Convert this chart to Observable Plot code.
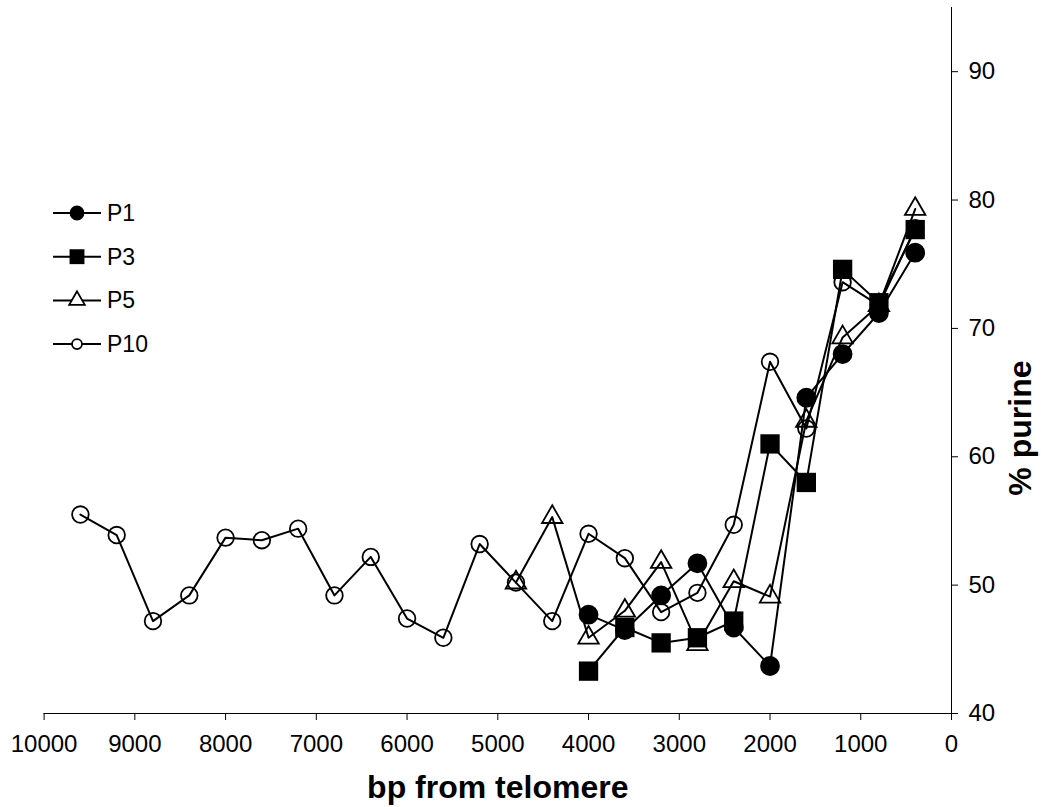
<!DOCTYPE html>
<html>
<head>
<meta charset="utf-8">
<script src="https://cdn.jsdelivr.net/npm/d3@7"></script>
<script src="https://cdn.jsdelivr.net/npm/@observablehq/plot@0.6"></script>
<style>
  html, body { margin: 0; padding: 0; background: #fff; }
  #wrap { position: relative; width: 1044px; height: 807px; font-family: "Liberation Sans", Arial, sans-serif; }
  #legend { position: absolute; left: 0; top: 0; }
</style>
</head>
<body>
<div id="wrap"></div>
<script>
// ---- data ----
const seriesNames = ["P1", "P3", "P5", "P10"];

const bp_P1 = [4000, 3600, 3200, 2800, 2400, 2000, 1600, 1200, 800, 400];
const purine_P1 = [47.7, 46.5, 49.2, 51.7, 46.7, 43.7, 64.6, 68.0, 71.2, 75.9];

const bp_P3 = [4000, 3600, 3200, 2800, 2400, 2000, 1600, 1200, 800, 400];
const purine_P3 = [43.3, 46.7, 45.5, 45.9, 47.2, 61.0, 58.0, 74.6, 72.0, 77.7];

const bp_P5 = [4800, 4400, 4000, 3600, 3200, 2800, 2400, 2000, 1600, 1200, 800, 400];
const purine_P5 = [50.2, 55.3, 45.9, 48.0, 51.8, 45.4, 50.3, 49.1, 62.8, 69.3, 71.8, 79.3];

const bp_P10 = [9600, 9200, 8800, 8400, 8000, 7600, 7200, 6800, 6400, 6000, 5600, 5200,
                4800, 4400, 4000, 3600, 3200, 2800, 2400, 2000, 1600, 1200, 800, 400];
const purine_P10 = [55.5, 53.9, 47.2, 49.2, 53.7, 53.5, 54.4, 49.2, 52.2, 47.4, 45.9, 53.2,
                    50.2, 47.2, 54.0, 52.1, 47.9, 49.4, 54.7, 67.4, 62.2, 73.6, 71.8, 77.8];

const xTicks = [10000, 9000, 8000, 7000, 6000, 5000, 4000, 3000, 2000, 1000, 0];
const yTicks = [40, 50, 60, 70, 80, 90];
const xLabel = "bp from telomere";
const yLabel = "% purine";

// ---- build tables ----
function table(name, xs, ys) { return xs.map((x, i) => ({series: name, bp: x, purine: ys[i]})); }
const P1 = table("P1", bp_P1, purine_P1);
const P3 = table("P3", bp_P3, purine_P3);
const P5 = table("P5", bp_P5, purine_P5);
const P10 = table("P10", bp_P10, purine_P10);

const styles = {
  P1:  {symbol: "circle",   fill: "black", stroke: "black", r: 9,    lr: 6.5},
  P3:  {symbol: "square",   fill: "black", stroke: "none",  r: 10.9, lr: 8.4},
  P5:  {symbol: "triangle", fill: "none",  stroke: "black", r: 7.6,  lr: 5.8},
  P10: {symbol: "circle",   fill: "none",  stroke: "black", r: 8.3,  lr: 5}
};

const all = [P1, P3, P5, P10];

const marks = [
  Plot.ruleY([40], {stroke: "black", strokeWidth: 1}),
  Plot.ruleX([0], {stroke: "black", strokeWidth: 1}),
  Plot.axisX({anchor: "bottom", ticks: xTicks, tickSize: 7, tickPadding: 14, tickFormat: d3.format("d"), fontSize: 24, label: null}),
  Plot.axisY({anchor: "right", ticks: yTicks, tickSize: 6, tickPadding: 11, fontSize: 24, label: null}),
  ...all.map(d => Plot.line(d, {x: "bp", y: "purine", stroke: "black", strokeWidth: 2})),
  ...all.map((d, i) => {
    const s = styles[seriesNames[i]];
    return Plot.dot(d, {x: "bp", y: "purine", symbol: () => s.symbol, r: s.r, fill: s.fill, stroke: s.stroke, strokeWidth: 1.8});
  }),
  Plot.text([xLabel], {frameAnchor: "bottom", lineAnchor: "bottom", dy: 84, fontSize: 32, fontWeight: "bold", fill: "black"}),
  Plot.text([yLabel], {frameAnchor: "right", rotate: -90, lineAnchor: "bottom", dx: 79, fontSize: 32, fontWeight: "bold", fill: "black"})
];

const chart = Plot.plot({
  width: 1044,
  height: 807,
  marginLeft: 43.6,
  marginRight: 93,
  marginTop: 7,
  marginBottom: 94,
  style: {fontFamily: "'Liberation Sans', Arial, sans-serif", fontSize: "24px", color: "black", background: "white", overflow: "visible"},
  x: {domain: [10000, 0]},
  y: {domain: [40, 95]},
  symbol: {type: "identity"},
  marks
});
document.getElementById("wrap").appendChild(chart);

// ---- legend overlay (inside plot area, upper left) ----
const legend = d3.select("#wrap").append("svg")
  .attr("id", "legend").attr("width", 200).attr("height", 200)
  .style("left", "40px").style("top", "190px");
const symMap = {circle: d3.symbolCircle, square: d3.symbolSquare, triangle: d3.symbolTriangle};
seriesNames.forEach((name, i) => {
  const s = styles[name];
  const g = legend.append("g").attr("transform", `translate(0,${23 + i * 43.7})`);
  g.append("line").attr("x1", 13).attr("x2", 61).attr("stroke", "black").attr("stroke-width", 2);
  g.append("path").attr("transform", "translate(37,0)")
    .attr("d", d3.symbol(symMap[s.symbol], Math.PI * s.lr * s.lr)())
    .attr("fill", s.fill === "none" ? "white" : s.fill)
    .attr("stroke", s.stroke).attr("stroke-width", 1.8);
  g.append("text").attr("x", 67).attr("dy", "0.35em")
    .attr("font-family", "'Liberation Sans', Arial, sans-serif").attr("font-size", 23)
    .text(name);
});
</script>
</body>
</html>
